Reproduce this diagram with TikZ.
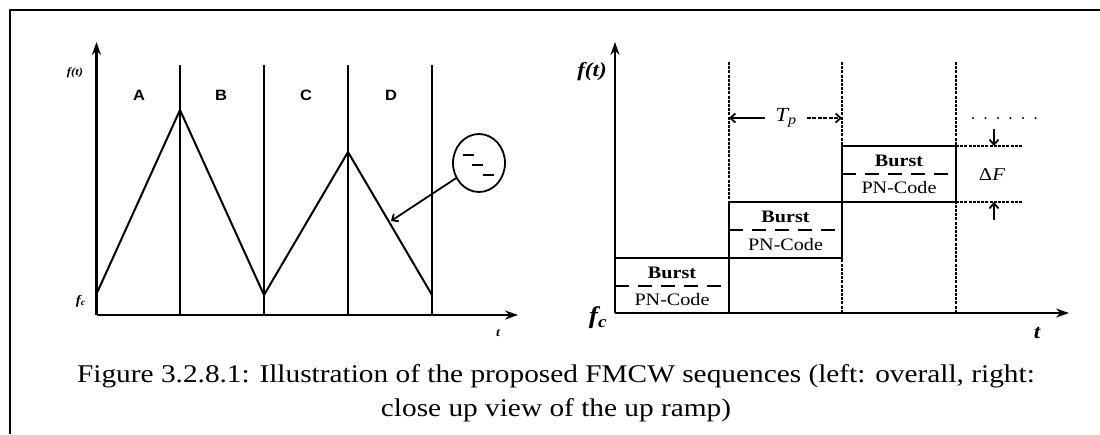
\documentclass[tikz,border=0pt]{standalone}
\usepackage{fontspec}
\setmainfont{Liberation Serif}[FakeStretch=1.15]
\newfontfamily\segfont{Liberation Sans}[FakeStretch=1.1]
\usetikzlibrary{arrows.meta, shapes.geometric}

\begin{document}
\begin{tikzpicture}[
  x=1pt, y=-1pt,
  >={Straight Barb[length=5pt,width=9pt]},
  axis/.style={line width=2.2pt, -{Stealth[length=13pt,width=9pt]}},
  ramp/.style={line width=2pt},
  divider/.style={line width=2pt},
  level/.style={line width=2.6pt},
  guide/.style={line width=1.6pt, dash pattern=on 3pt off 1.2pt},
  split/.style={line width=2pt, dash pattern=on 14pt off 9pt},
  boxtext/.style={font=\fontsize{17.5}{17.5}\selectfont, inner sep=0pt},
  pointer/.style={->, line width=1.8pt},
]
\useasboundingbox (0,0) rectangle (1100,434);

% --- Frame ---------------------------------------------------------
\draw[line width=2pt] (10,434) -- (10,10) -- (1100,10);

% --- Left: overall triangular sequence -----------------------------
\coordinate (L0)   at (96.5,315);
\coordinate (Ltop) at (96.5,42);
\coordinate (Lend) at (518,315);
\draw[axis] (L0) -- (Ltop);
\draw[axis] (L0) -- (Lend);

\foreach \x in {180, 264, 348, 432} {
  \draw[divider] (\x,65) -- (\x,315);
}
\draw[ramp, line join=miter] (96.5,294) -- (180,110) -- (264,295) -- (348,152) -- (432,295);

\foreach \x/\seg in {139/A, 221/B, 306/C, 391/D} {
  \node[font=\segfont\bfseries\fontsize{15}{15}\selectfont] (seg\seg) at (\x,95) {\seg};
}
\node[font=\bfseries\itshape\fontsize{11}{11}\selectfont] (Lf) at (75,73) {f(t)};
\node[font=\bfseries\itshape\fontsize{13}{13}\selectfont] (Lfc) at (81,301) {f\textsubscript{c}};
\node[font=\bfseries\itshape\fontsize{12}{12}\selectfont] (Lt) at (498,333) {t};

% close-up circle and pointer
\node[draw, ellipse, line width=1.8pt, inner sep=0pt,
      minimum width=52pt, minimum height=58pt] (zoom) at (479,163) {};
\foreach \x/\y in {463/155, 472/165, 483/175} {
  \draw[line width=1.8pt] (\x,\y) -- ++(11,0);
}
\coordinate (hit) at (391,221);
\draw[pointer] (zoom) -- (hit);

% --- Right: close up of the up ramp --------------------------------
\coordinate (R0)   at (615,313);
\coordinate (Rtop) at (615,42);
\coordinate (Rend) at (1069,313);

\foreach \x in {729, 842, 956} {
  \draw[guide] (\x,62) -- (\x,313);
}
\draw[axis, line width=2.8pt] (R0) -- (Rtop);
\draw[axis, line width=2.8pt] (R0) -- (Rend);

% steps
\draw[level, line width=1.6pt] (615,258) -- (729,258);
\draw[level] (729,313) -- (729,202) -- (956,202);
\draw[level] (729,258) -- (842,258) -- (842,146) -- (956,146) -- (956,202);
\draw[guide, line width=2pt] (956,146) -- (1022,146);
\draw[guide, line width=2pt] (956,202) -- (1022,202);

% burst / PN-code boxes
\foreach \cx/\yb/\ym/\yp [count=\i] in {672/273/286/300, 785.5/217/230/245, 899/161/174/188} {
  \node[boxtext] (burst\i) at (\cx,\yb) {\textbf{Burst}};
  \node[boxtext] (code\i)  at (\cx,\yp) {PN-Code};
  \draw[split] (\cx-57,\ym) -- (\cx+57,\ym);
}

% period T_p
\coordinate (TpL) at (729,118);
\coordinate (TpR) at (842,118);
\node[font=\itshape\fontsize{20}{20}\selectfont, inner sep=10pt] (Tp) at (786,118) {T\textsubscript{p}};
\draw[->, line width=1.8pt] (Tp.west) -- (TpL);
\draw[->, line width=1.8pt, dash pattern=on 4pt off 1.5pt] (Tp.east) -- (TpR);

% continuation dots
\foreach \x in {973, 985.5, ..., 1036} {
  \fill (\x,118) circle (1.2pt);
}

% step height Delta F
\coordinate (dFtop) at (994,146);
\coordinate (dFbot) at (994,202);
\coordinate (dFa) at (994,129);
\coordinate (dFb) at (994,220);
\draw[->, line width=1.8pt] (dFa) -- (dFtop);
\draw[->, line width=1.8pt] (dFb) -- (dFbot);
\node[font=\fontsize{18}{18}\selectfont] (dF) at (992,175) {Δ\textit{F}};

\node[font=\bfseries\itshape\fontsize{20}{20}\selectfont] (Rf) at (592,72) {f(t)};
\node[font=\bfseries\itshape\fontsize{24}{24}\selectfont] (Rfc) at (598,318) {f\textsubscript{c}};
\node[font=\bfseries\itshape\fontsize{20}{20}\selectfont] (Rt) at (1037,333) {t};

% --- Caption -------------------------------------------------------
\node[font=\fontsize{25.5}{34}\selectfont, align=center] (caption) at (556,393)
  {Figure 3.2.8.1: Illustration of the proposed FMCW sequences (left: overall, right:\\
   close up view of the up ramp)};
\end{tikzpicture}
\end{document}
